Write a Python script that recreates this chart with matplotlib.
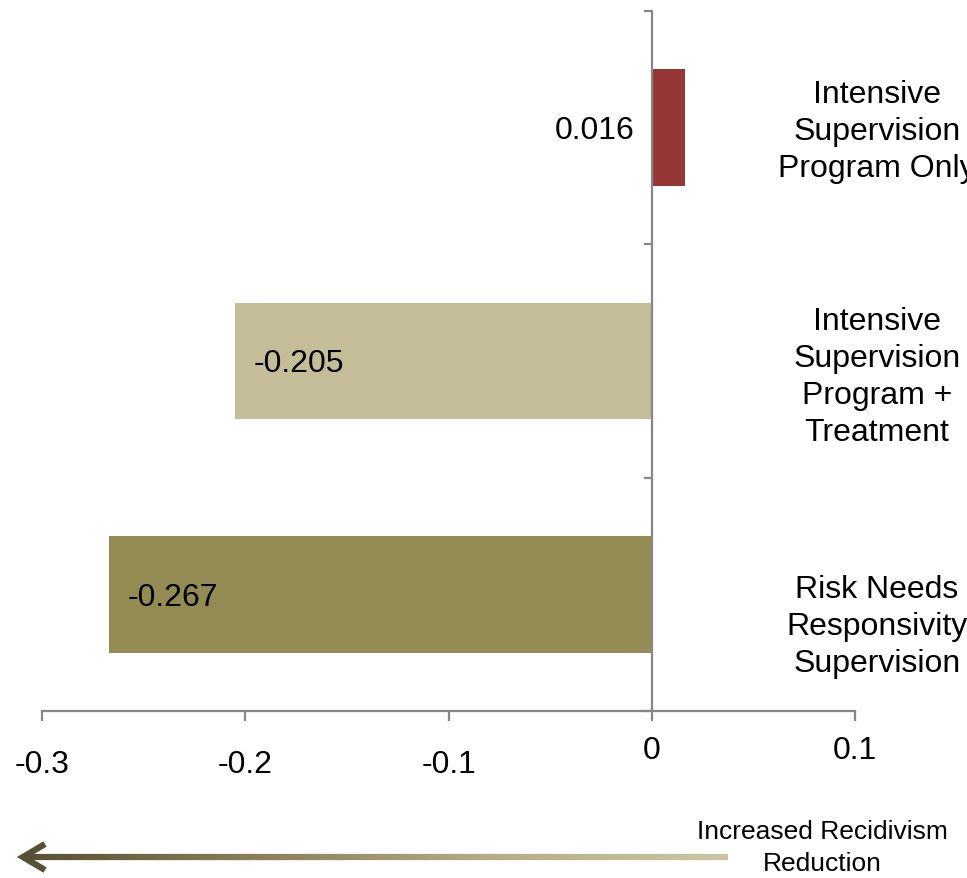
import numpy as np
import matplotlib
matplotlib.use("Agg")
import matplotlib.pyplot as plt
import matplotlib.transforms as mtransforms
from matplotlib.collections import LineCollection
from matplotlib.colors import LinearSegmentedColormap

plt.rcParams['font.family'] = ['Liberation Sans', 'DejaVu Sans']

# 数据
类别 = ["Intensive\nSupervision\nProgram Only",
        "Intensive\nSupervision\nProgram +\nTreatment",
        "Risk Needs\nResponsivity\nSupervision"]
数值 = [0.016, -0.205, -0.267]
颜色 = ["#953735", "#C4BD97", "#948A54"]
刻度 = [-0.3, -0.2, -0.1, 0, 0.1]
刻度标签 = ["-0.3", "-0.2", "-0.1", "0", "0.1"]
类别标签位置 = [0.015, 1.065, 2.135]

轴色 = "#878787"
字号 = 23

fig = plt.figure(figsize=(9.67, 8.79), dpi=100)
ax = fig.add_axes([42 / 967, 1 - 712 / 879, (855.3 - 42) / 967, 700 / 879])

y = np.arange(len(数值))
ax.barh(y, 数值, height=0.5, color=颜色, zorder=2)
ax.set_xlim(-0.3, 0.1)
ax.set_ylim(2.5, -0.5)

# 坐标轴
for s in ["top", "right"]:
    ax.spines[s].set_visible(False)
ax.spines["left"].set_position(("data", 0))
for s in ["left", "bottom"]:
    ax.spines[s].set_color(轴色)
    ax.spines[s].set_linewidth(1.6)
    ax.spines[s].set_zorder(3)

ax.set_yticks([-0.5, 0.5, 1.5, 2.5])
ax.set_yticklabels([])
ax.tick_params(axis="y", direction="out", length=6, width=1.6, color=轴色)
ax.set_xticks(刻度)
ax.set_xticklabels(刻度标签)
ax.tick_params(axis="x", direction="out", length=7, width=1.6, color=轴色,
               labelsize=字号, pad=10)
# 负数刻度标签稍低
下移 = mtransforms.ScaledTranslation(0, -0.14, fig.dpi_scale_trans)
for lab, v in zip(ax.get_xticklabels(), 刻度):
    if v < 0:
        lab.set_transform(lab.get_transform() + 下移)

# 数值标签
for i, v in enumerate(数值):
    if v > 0:
        ax.text(-0.0085, i + 0.01, f"{v:.3f}", ha="right", va="center", fontsize=字号, zorder=4)
    else:
        ax.text(v + 0.009, i + 0.01, f"{v:.3f}", ha="left", va="center", fontsize=字号, zorder=4)

# 右侧类别名称
for txt, yy in zip(类别, 类别标签位置):
    ax.text(0.1107, yy, txt, ha="center", va="center", fontsize=字号,
            linespacing=1.3, clip_on=False)

# 底部渐变箭头
ov = fig.add_axes([0, 0, 1, 1], zorder=-1)
ov.set_xlim(0, 967)
ov.set_ylim(879, 0)
ov.axis("off")
cmap = LinearSegmentedColormap.from_list("g", ["#575033", "#8A7F58", "#B5AD88", "#CBC5A3"])
xs = np.linspace(27, 728, 300)
segs = [[(xs[k], 858), (xs[k + 1], 858)] for k in range(len(xs) - 1)]
lc = LineCollection(segs, colors=cmap(np.linspace(0, 1, len(segs))), linewidth=4.5,
                    capstyle="butt")
ov.add_collection(lc)
ov.plot([45, 23, 45], [845, 858, 871], color="#575033", lw=4.5,
        solid_joinstyle="miter", solid_capstyle="butt")
fig.text(822 / 967, 1 - 832 / 879, "Increased Recidivism", ha="center", va="center",
         fontsize=19, family=["Liberation Sans Narrow", "Liberation Sans"])
fig.text(822 / 967, 1 - 864 / 879, "Reduction", ha="center", va="center",
         fontsize=19, family=["Liberation Sans Narrow", "Liberation Sans"])

fig.savefig("out.png", dpi=100)
